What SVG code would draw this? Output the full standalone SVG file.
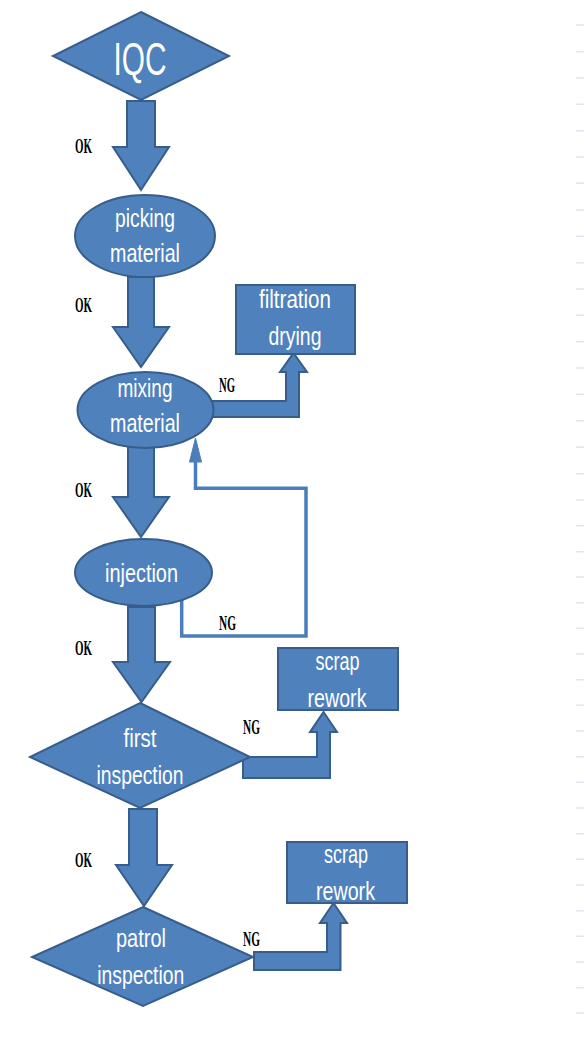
<svg xmlns="http://www.w3.org/2000/svg" width="584" height="1038" viewBox="0 0 584 1038">
<style>
.shape{fill:#4f81bd;stroke:#385d8a;stroke-width:2}
.lbl{fill:#ffffff;font-family:"Liberation Sans Narrow","Liberation Sans",sans-serif;font-size:25px;text-anchor:middle}
.cond{fill:#000000;font-family:"Liberation Serif",serif;font-weight:bold;font-size:20px}
.fb{fill:none;stroke:#4a7ebb;stroke-width:3.5}
</style>
<rect width="584" height="1038" fill="#ffffff"/>
<path d="M576,25H584M576,51.7H584M576,78H584M576,104.3H584M576,130.7H584M576,157H584M576,183.3H584M576,210H584M576,236.3H584M576,262.7H584M576,289H584M576,315.3H584M576,341.7H584M576,368H584M576,394.3H584M576,420.7H584M576,447.3H584M576,473.7H584M576,500H584M576,525.7H584M576,551.7H584M576,577H584M576,602.7H584M576,628.3H584M576,654H584M576,679.7H584M576,705.3H584M576,731H584M576,756.7H584M576,782.3H584M576,808H584M576,833.7H584M576,859.3H584M576,885H584M576,910.7H584M576,936.3H584M576,962H584M576,987.7H584M576,1013H584" stroke="#e2e5ec" stroke-width="1.5" fill="none"/>
<g id="connectors">
<path class="shape" d="M127,101H155V147H169L141,190L113,147H127Z"/>
<path class="shape" d="M128,277H154V327H169L141,367L113,327H128Z"/>
<path class="shape" d="M128,447H154V497H169L141,537L113,497H128Z"/>
<path class="shape" d="M128,607H155V662H170L141.5,702L113,662H128Z"/>
<path class="shape" d="M129,809H157V865H172L144,906L116,865H129Z"/>
<path class="shape" d="M205,401H286V372H280L293.5,353L307,372H299V417H205Z"/>
<path class="shape" d="M243,757H317V732H310L323.5,712L337,732H330V778H243Z"/>
<path class="shape" d="M254,952H327V923H320L333.5,903L347,923H340.5V970H254Z"/>
<polyline class="fb" points="181.7,600 181.7,636 306,636 306,488.3 195.5,488.3 195.5,461"/>
<polygon points="189.5,462 195.5,438 201.5,462" fill="#4a7ebb" stroke="#4a7ebb" stroke-width="1"/>
<text class="cond" x="75" y="153" textLength="17" lengthAdjust="spacingAndGlyphs">OK</text>
<text class="cond" x="75" y="312" textLength="17" lengthAdjust="spacingAndGlyphs">OK</text>
<text class="cond" x="75" y="497" textLength="17" lengthAdjust="spacingAndGlyphs">OK</text>
<text class="cond" x="75" y="655" textLength="17" lengthAdjust="spacingAndGlyphs">OK</text>
<text class="cond" x="75" y="867" textLength="17" lengthAdjust="spacingAndGlyphs">OK</text>
<text class="cond" x="219" y="392" textLength="16" lengthAdjust="spacingAndGlyphs">NG</text>
<text class="cond" x="219" y="630" textLength="17" lengthAdjust="spacingAndGlyphs">NG</text>
<text class="cond" x="243" y="734" textLength="17" lengthAdjust="spacingAndGlyphs">NG</text>
<text class="cond" x="243" y="946" textLength="17" lengthAdjust="spacingAndGlyphs">NG</text>
</g>
<g id="iqc">
<polygon class="shape" points="141,12 229,56 141,100 53,56"/>
<text class="lbl" x="140" y="75" style="font-size:46px" textLength="53" lengthAdjust="spacingAndGlyphs">IQC</text>
</g>
<g id="picking">
<ellipse class="shape" cx="145" cy="236" rx="70" ry="41"/>
<text class="lbl" x="145" y="226.7" textLength="60" lengthAdjust="spacingAndGlyphs">picking</text>
<text class="lbl" x="145" y="261.7" textLength="70" lengthAdjust="spacingAndGlyphs">material</text>
</g>
<g id="filtration">
<rect class="shape" x="236" y="285" width="119" height="69"/>
<text class="lbl" x="295" y="308" textLength="72" lengthAdjust="spacingAndGlyphs">filtration</text>
<text class="lbl" x="295" y="345" textLength="53" lengthAdjust="spacingAndGlyphs">drying</text>
</g>
<g id="mixing">
<ellipse class="shape" cx="145.5" cy="410" rx="68" ry="38"/>
<text class="lbl" x="145" y="396.7" textLength="55" lengthAdjust="spacingAndGlyphs">mixing</text>
<text class="lbl" x="145" y="432" textLength="70" lengthAdjust="spacingAndGlyphs">material</text>
</g>
<g id="injection">
<ellipse class="shape" cx="143.5" cy="572.5" rx="68.5" ry="33.5"/>
<text class="lbl" x="141.5" y="581.7" textLength="73" lengthAdjust="spacingAndGlyphs">injection</text>
</g>
<g id="first">
<polygon class="shape" points="140,703 250,757 140,808 30,757"/>
<text class="lbl" x="140" y="746.7" textLength="33" lengthAdjust="spacingAndGlyphs">first</text>
<text class="lbl" x="140" y="784" textLength="87" lengthAdjust="spacingAndGlyphs">inspection</text>
</g>
<g id="scrap1">
<rect class="shape" x="278" y="648" width="120" height="62"/>
<text class="lbl" x="337.5" y="670" textLength="44" lengthAdjust="spacingAndGlyphs">scrap</text>
<text class="lbl" x="337" y="706.7" textLength="59" lengthAdjust="spacingAndGlyphs">rework</text>
</g>
<g id="patrol">
<polygon class="shape" points="143,907 253,957 143,1006 32,957"/>
<text class="lbl" x="141" y="946.7" textLength="50" lengthAdjust="spacingAndGlyphs">patrol</text>
<text class="lbl" x="140.7" y="984" textLength="87" lengthAdjust="spacingAndGlyphs">inspection</text>
</g>
<g id="scrap2">
<rect class="shape" x="287" y="842" width="120" height="61"/>
<text class="lbl" x="346" y="863" textLength="44" lengthAdjust="spacingAndGlyphs">scrap</text>
<text class="lbl" x="345.5" y="900" textLength="59" lengthAdjust="spacingAndGlyphs">rework</text>
</g>
</svg>
